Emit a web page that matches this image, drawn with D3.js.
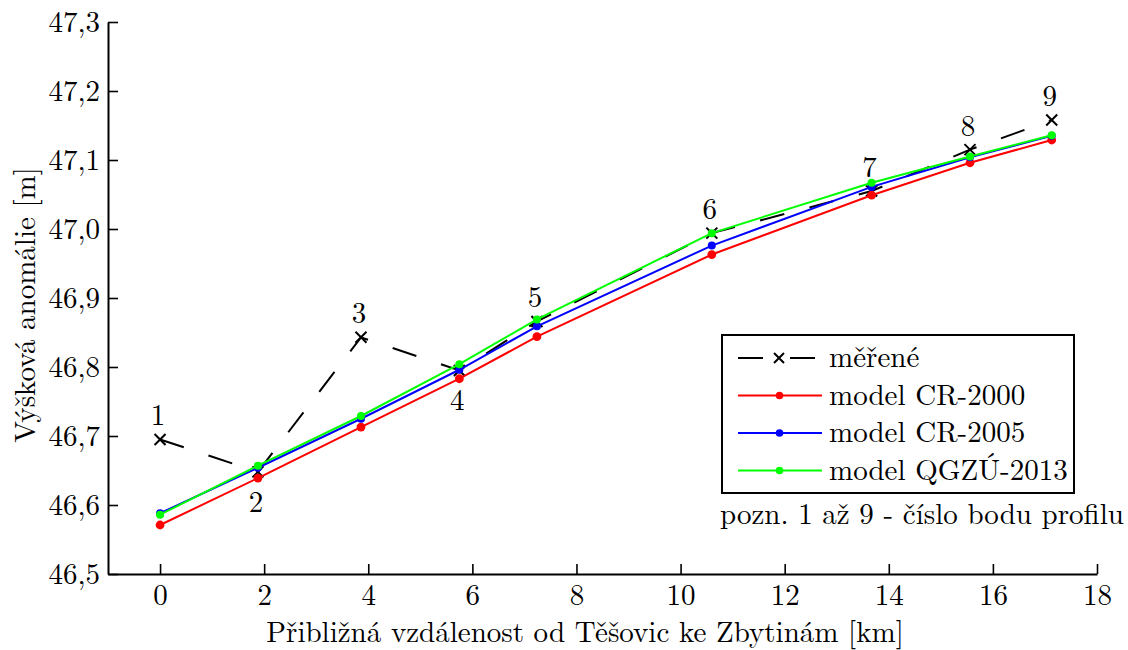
<!DOCTYPE html>
<html>
<head>
<meta charset="utf-8">
<script src="https://cdn.jsdelivr.net/npm/d3@7/dist/d3.min.js"></script>
</head>
<body style="margin:0;padding:0;background:#fff">
<svg id="chart" width="1128" height="650"></svg>
<script>
// ---- data ----
const distanceKm = [0, 1.88, 3.86, 5.75, 7.24, 10.6, 13.67, 15.56, 17.13];
const pointLabels = ["1", "2", "3", "4", "5", "6", "7", "8", "9"];
const labelSide = ["above", "below", "above", "below", "above", "above", "above", "above", "above"];
const measured = [46.695, 46.648, 46.843, 46.795, 46.866, 46.994, 47.055, 47.115, 47.158];
const cr2000   = [46.571, 46.639, 46.713, 46.783, 46.844, 46.963, 47.049, 47.096, 47.129];
const cr2005   = [46.588, 46.654, 46.725, 46.796, 46.859, 46.976, 47.061, 47.104, 47.135];
const qgzu2013 = [46.586, 46.657, 46.729, 46.804, 46.869, 46.994, 47.067, 47.105, 47.136];
const xTicks = [0, 2, 4, 6, 8, 10, 12, 14, 16, 18];
const yTicks = [46.5, 46.6, 46.7, 46.8, 46.9, 47.0, 47.1, 47.2, 47.3];
const seriesNames = ["měřené", "model CR-2000", "model CR-2005", "model QGZÚ-2013"];
const xTitle = "Přibližná vzdálenost od Těšovic ke Zbytinám [km]";
const yTitle = "Výšková anomálie [m]";
const noteText = "pozn. 1 až 9 - číslo bodu profilu";

// ---- layout ----
const FONT = '"Latin Modern Roman", "CMU Serif", "Liberation Serif", serif';
const FS = 29;
const svg = d3.select("#chart");
const x = d3.scaleLinear().domain([-1, 18]).range([108, 1097]);
const y = d3.scaleLinear().domain([46.5, 47.3]).range([574, 22]);
const fmt = v => d3.format(".1f")(v).replace(".", ",");
const txt = sel => sel.style("font-family", FONT).style("font-size", FS + "px").style("fill", "#000");

// axes
const xAxis = d3.axisBottom(x).tickValues(xTicks).tickSizeInner(-10).tickSizeOuter(0).tickPadding(10).tickFormat(d3.format("d"));
const yAxis = d3.axisLeft(y).tickValues(yTicks).tickSizeInner(-10).tickSizeOuter(0).tickPadding(8).tickFormat(fmt);

const gx = svg.append("g").attr("transform", `translate(0,${y(46.5)})`).call(xAxis);
const gy = svg.append("g").attr("transform", `translate(${x(-1)},0)`).call(yAxis);
[gx, gy].forEach(g => {
  g.select(".domain").attr("stroke", "#000").attr("stroke-width", 2);
  g.selectAll(".tick line").attr("stroke", "#000").attr("stroke-width", 1.6);
  g.selectAll(".tick text").call(txt);
});
gx.selectAll(".tick text").attr("dy", "0.71em");
gy.selectAll(".tick text").attr("dy", "0.34em");

// titles
svg.append("text").attr("x", 585).attr("y", 642).attr("text-anchor", "middle").call(txt).text(xTitle);
svg.append("text").attr("transform", `translate(35,305) rotate(-90)`).attr("text-anchor", "middle").call(txt).text(yTitle);

// series
const line = d3.line().x((d, i) => x(distanceKm[i])).y(d => y(d));

// measured
svg.append("path").datum(measured).attr("d", line)
  .attr("fill", "none").attr("stroke", "#000").attr("stroke-width", 2)
  .attr("stroke-dasharray", "25 26");
const crossSize = 5.5;
svg.append("g").selectAll("path").data(measured).join("path")
  .attr("d", (d, i) => {
    const cx = x(distanceKm[i]), cy = y(d), s = crossSize;
    return `M${cx - s},${cy - s}L${cx + s},${cy + s}M${cx - s},${cy + s}L${cx + s},${cy - s}`;
  })
  .attr("stroke", "#000").attr("stroke-width", 2);

const models = [
  { vals: cr2000, color: "#ff0000", r: 4.4 },
  { vals: cr2005, color: "#0000ff", r: 4 },
  { vals: qgzu2013, color: "#00ff00", r: 4 }
];
models.forEach(m => {
  svg.append("path").datum(m.vals).attr("d", line)
    .attr("fill", "none").attr("stroke", m.color).attr("stroke-width", 2);
  svg.append("g").selectAll("circle").data(m.vals).join("circle")
    .attr("cx", (d, i) => x(distanceKm[i])).attr("cy", d => y(d)).attr("r", m.r)
    .attr("fill", m.color);
});

// point labels
svg.append("g").selectAll("text").data(pointLabels).join("text")
  .attr("x", (d, i) => x(distanceKm[i]) - 2)
  .attr("y", (d, i) => labelSide[i] === "above" ? y(measured[i]) - 14 : y(measured[i]) + 40)
  .attr("text-anchor", "middle").call(txt).text(d => d);

// legend
const lg = svg.append("g");
lg.append("rect").attr("x", 722).attr("y", 335).attr("width", 352).attr("height", 158)
  .attr("fill", "#fff").attr("stroke", "#000").attr("stroke-width", 2);
const rowY = [358, 395.5, 433, 470.5];
const legColors = ["#000", "#ff0000", "#0000ff", "#00ff00"];
seriesNames.forEach((name, i) => {
  const yy = rowY[i];
  if (i === 0) {
    lg.append("line").attr("x1", 738).attr("x2", 815).attr("y1", yy).attr("y2", yy)
      .attr("stroke", "#000").attr("stroke-width", 2).attr("stroke-dasharray", "25 27");
    const s = 5;
    lg.append("path").attr("d", `M${779 - s},${yy - s}L${779 + s},${yy + s}M${779 - s},${yy + s}L${779 + s},${yy - s}`)
      .attr("stroke", "#000").attr("stroke-width", 2);
  } else {
    lg.append("line").attr("x1", 738).attr("x2", 822).attr("y1", yy).attr("y2", yy)
      .attr("stroke", legColors[i]).attr("stroke-width", 2);
    lg.append("circle").attr("cx", 779.5).attr("cy", yy).attr("r", 3.8).attr("fill", legColors[i]);
  }
  lg.append("text").attr("x", 829).attr("y", yy).attr("dy", "0.32em").call(txt).text(name);
});

svg.append("text").attr("x", 720).attr("y", 524).call(txt).text(noteText);
</script>
</body>
</html>
